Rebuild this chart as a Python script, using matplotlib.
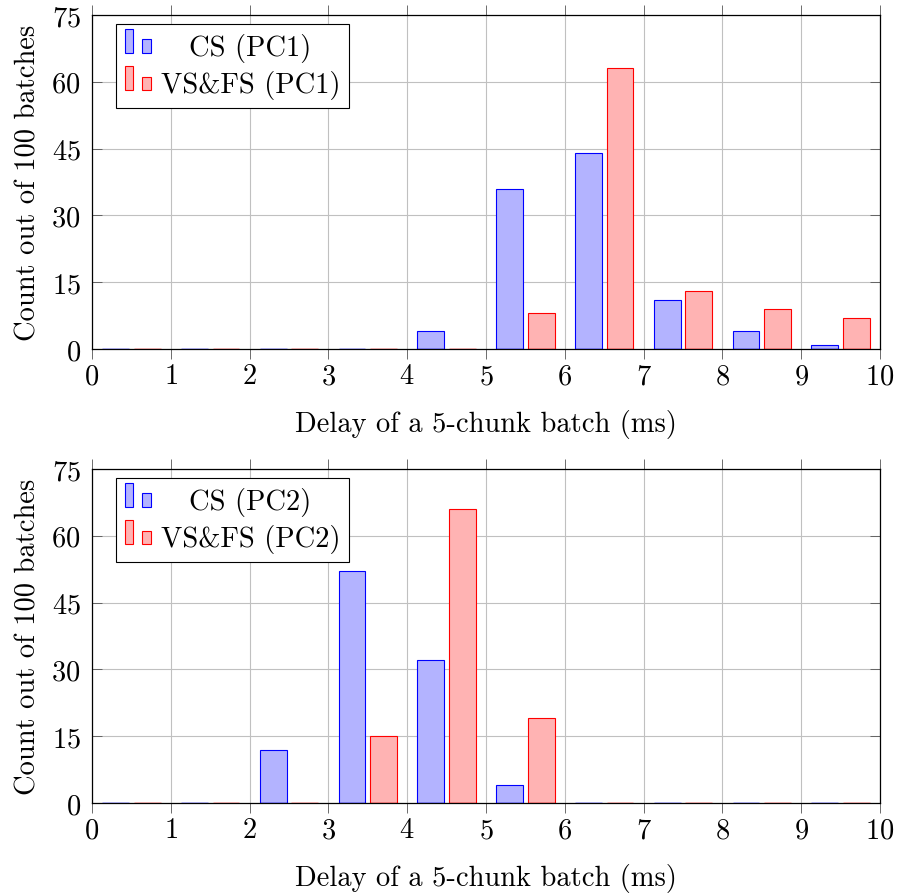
import matplotlib
matplotlib.use("Agg")
import matplotlib.pyplot as plt
from matplotlib.patches import Rectangle
from matplotlib.legend_handler import HandlerBase

plt.rcParams['font.family'] = ['cmr10', 'DejaVu Serif']
plt.rcParams['mathtext.fontset'] = 'cm'
plt.rcParams['axes.formatter.use_mathtext'] = True

bins = list(range(10))
cs_pc1 = [0, 0, 0, 0, 4, 36, 44, 11, 4, 1]
vsfs_pc1 = [0, 0, 0, 0, 0, 8, 63, 13, 9, 7]
cs_pc2 = [0, 0, 12, 52, 32, 4, 0, 0, 0, 0]
vsfs_pc2 = [0, 0, 0, 15, 66, 19, 0, 0, 0, 0]
yticks = [0, 15, 30, 45, 60, 75]

blue_fill = (0.7, 0.7, 1.0)
red_fill = (1.0, 0.7, 0.7)
FS = 20.5
BW = 0.34


class TwoBars(HandlerBase):
    # pgfplots-style ybar legend image: two small bars
    def create_artists(self, legend, orig_handle, xdescent, ydescent,
                       width, height, fontsize, trans):
        p = orig_handle.patches[0]
        fc = p.get_facecolor()
        ec = p.get_edgecolor()
        w = width * 0.3
        x0 = -xdescent
        y0 = -ydescent + 0.1 * height
        r1 = Rectangle((x0, y0), w, height * 1.2, fc=fc, ec=ec, lw=0.8, transform=trans)
        r2 = Rectangle((x0 + 2 * w, y0), w, height * 0.68, fc=fc, ec=ec, lw=0.8, transform=trans)
        return [r1, r2]


fig = plt.figure(figsize=(8.98, 8.95), dpi=100)
ax1 = fig.add_axes([0.1024, 0.6089, 0.8775, 0.3732])
ax2 = fig.add_axes([0.1024, 0.1017, 0.8775, 0.3732])

legends = []
for ax, cs, vs, tag in [(ax1, cs_pc1, vsfs_pc1, "PC1"), (ax2, cs_pc2, vsfs_pc2, "PC2")]:
    xb = [b + 0.3 for b in bins]
    xr = [b + 0.7 for b in bins]
    b1 = ax.bar(xb, cs, width=BW, color=blue_fill,
                edgecolor='blue', linewidth=0.8, label="CS (" + tag + ")", zorder=3)
    b2 = ax.bar(xr, vs, width=BW, color=red_fill,
                edgecolor='red', linewidth=0.8, label="VS&FS (" + tag + ")", zorder=3)
    # zero-height bars still show their outline on the baseline
    ax.hlines([0] * len(xb), [x - BW / 2 for x in xb], [x + BW / 2 for x in xb],
              color='blue', linewidth=1.0, zorder=5)
    ax.hlines([0] * len(xr), [x - BW / 2 for x in xr], [x + BW / 2 for x in xr],
              color='red', linewidth=1.0, zorder=5)
    ax.set_xlim(0, 10)
    ax.set_ylim(0, 75)
    ax.set_xticks(range(11))
    ax.set_yticks(yticks)
    ax.grid(True, color='#c0c0c0', linewidth=0.8, zorder=0)
    ax.tick_params(axis='x', direction='out', top=True, length=7, width=0.6,
                   color='#555555', labelsize=FS, pad=3)
    ax.tick_params(axis='y', direction='in', right=True, length=7, width=0.6,
                   color='#555555', labelsize=FS, pad=8)
    for s in ax.spines.values():
        s.set_linewidth(0.9)
        s.set_zorder(4)
    ax.set_xlabel("Delay of a 5-chunk batch (ms)", fontsize=FS, labelpad=14)
    ax.set_ylabel("Count out of 100 batches", fontsize=FS, labelpad=7)
    leg = ax.legend(handler_map={b1: TwoBars(), b2: TwoBars()},
                    loc='upper left', bbox_to_anchor=(0.031, 0.973),
                    fontsize=FS, frameon=True, fancybox=False, edgecolor='black',
                    framealpha=1, handlelength=1.0, handletextpad=0.25,
                    borderpad=0.3, labelspacing=0.3, borderaxespad=0)
    leg.get_frame().set_linewidth(0.8)
    leg.set_zorder(6)
    legends.append(leg)

# centre the legend labels in their column, as pgfplots does
fig.canvas.draw()
r = fig.canvas.get_renderer()
for leg in legends:
    texts = leg.get_texts()
    widths = [t.get_window_extent(r).width for t in texts]
    for t, wd in zip(texts, widths):
        t.set_x((max(widths) - wd) / 2)

fig.savefig("out.png", dpi=100)
